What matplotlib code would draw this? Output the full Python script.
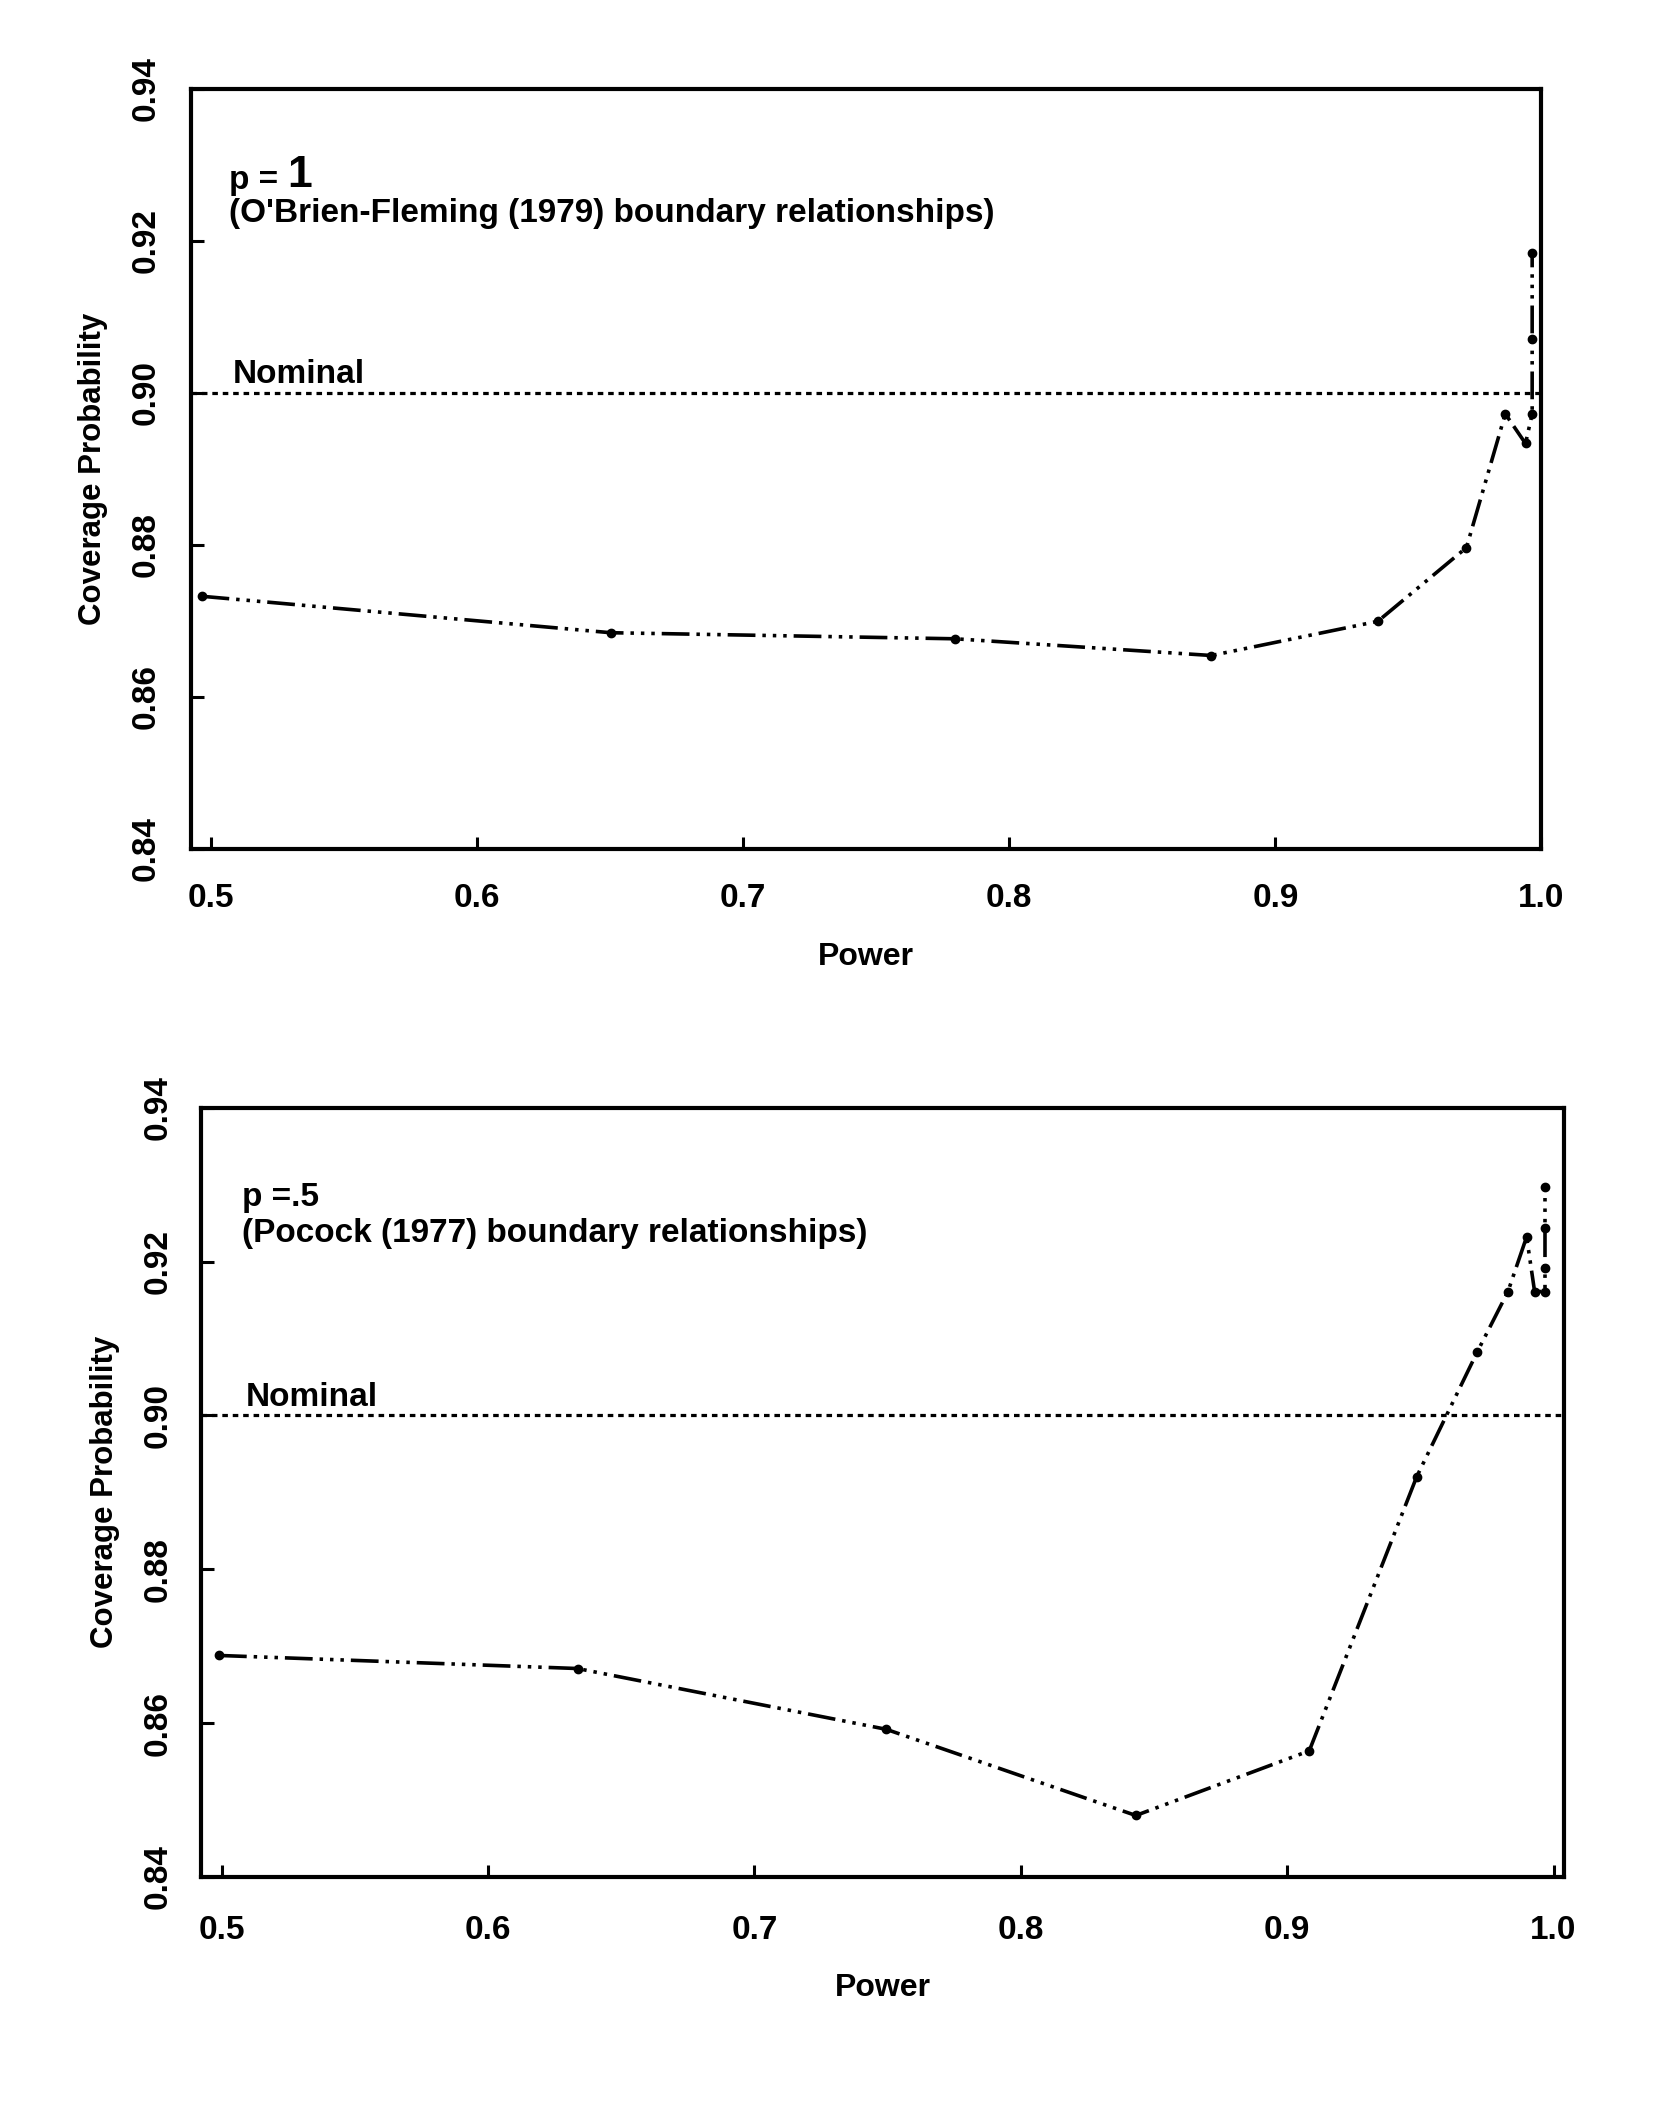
import matplotlib
matplotlib.use("Agg")
import matplotlib.pyplot as plt

plt.rcParams['font.family'] = ['Liberation Sans', 'DejaVu Sans']
plt.rcParams['font.weight'] = 'bold'
plt.rcParams['axes.labelweight'] = 'bold'
plt.rcParams['lines.scale_dashes'] = False

# ---- data ----
power_obf = [0.4965, 0.6502, 0.7797, 0.8760, 0.9385, 0.9718, 0.9864, 0.9940, 0.9965, 0.9965, 0.9965]
cover_obf = [0.8732, 0.8684, 0.8676, 0.8654, 0.8699, 0.8796, 0.8972, 0.8933, 0.8972, 0.9071, 0.9184]

power_poc = [0.4990, 0.6336, 0.7495, 0.8432, 0.9083, 0.9486, 0.9713, 0.9829, 0.9899, 0.9929, 0.9968, 0.9968, 0.9968, 0.9968]
cover_poc = [0.8688, 0.8671, 0.8592, 0.8480, 0.8564, 0.8920, 0.9082, 0.9161, 0.9232, 0.9161, 0.9161, 0.9191, 0.9244, 0.9297]

nominal = 0.90
xticks = [0.5, 0.6, 0.7, 0.8, 0.9, 1.0]
xticklabels = ["0.5", "0.6", "0.7", "0.8", "0.9", "1.0"]
yticks = [0.84, 0.86, 0.88, 0.90, 0.92, 0.94]
yticklabels = ["0.84", "0.86", "0.88", "0.90", "0.92", "0.94"]

FS = 24
fig = plt.figure(figsize=(16.81, 21.05), dpi=100)

dashdotdot = (0, (20, 5, 2.5, 5, 2.5, 5, 2.5, 5))


def panel(rect, xs, ys, xlim, p_text, p_big, sub_text, ypad, xpad):
    ax = fig.add_axes(rect)
    ax.plot(xs, ys, color='black', lw=2.6, linestyle=dashdotdot,
            marker='o', markersize=6, zorder=3)
    ax.axhline(nominal, color='black', lw=2.3, linestyle=(0, (4, 3.5)), zorder=2)
    ax.set_xlim(*xlim)
    ax.set_ylim(0.84, 0.94)
    ax.set_xticks(xticks)
    ax.set_xticklabels(xticklabels)
    ax.set_yticks(yticks)
    ax.set_yticklabels(yticklabels, rotation=90, va='center')
    ax.tick_params(direction='in', length=9, width=2.2, labelsize=24,
                   top=False, right=False)
    ax.tick_params(axis='y', pad=ypad)
    ax.tick_params(axis='x', pad=xpad)
    for s in ax.spines.values():
        s.set_linewidth(3)
    ax.set_xlabel("Power", fontsize=23, fontweight='bold', labelpad=20)
    ax.set_ylabel("Coverage Probability", fontsize=22.5, fontweight='bold', labelpad=16)
    tx = xlim[0] + 0.0145 if p_big else xlim[0] + 0.0152
    if p_big:
        t = ax.text(tx, 0.9268, "p = ", fontsize=FS, va='baseline', ha='left')
        ax.annotate("1", xy=(1, 0), xycoords=t, fontsize=FS + 8,
                    va='bottom', ha='left')
    else:
        ax.text(tx, 0.9272, p_text, fontsize=FS, va='baseline', ha='left')
    ax.text(tx, 0.9225, sub_text, fontsize=FS, va='baseline', ha='left')
    ax.text(tx + 0.0015, 0.9012, "Nominal", fontsize=FS, va='baseline', ha='left')
    return ax


panel([0.1134, 0.5969, 0.8036, 0.3610], power_obf, cover_obf, (0.4924, 0.9996),
      "p = 1", True, "(O'Brien-Fleming (1979) boundary relationships)", 21, 25)
panel([0.1198, 0.1083, 0.8107, 0.3655], power_poc, cover_poc, (0.4924, 1.004),
      "p =.5", False, "(Pocock (1977) boundary relationships)", 20, 27)

fig.savefig("out.png", dpi=100)
